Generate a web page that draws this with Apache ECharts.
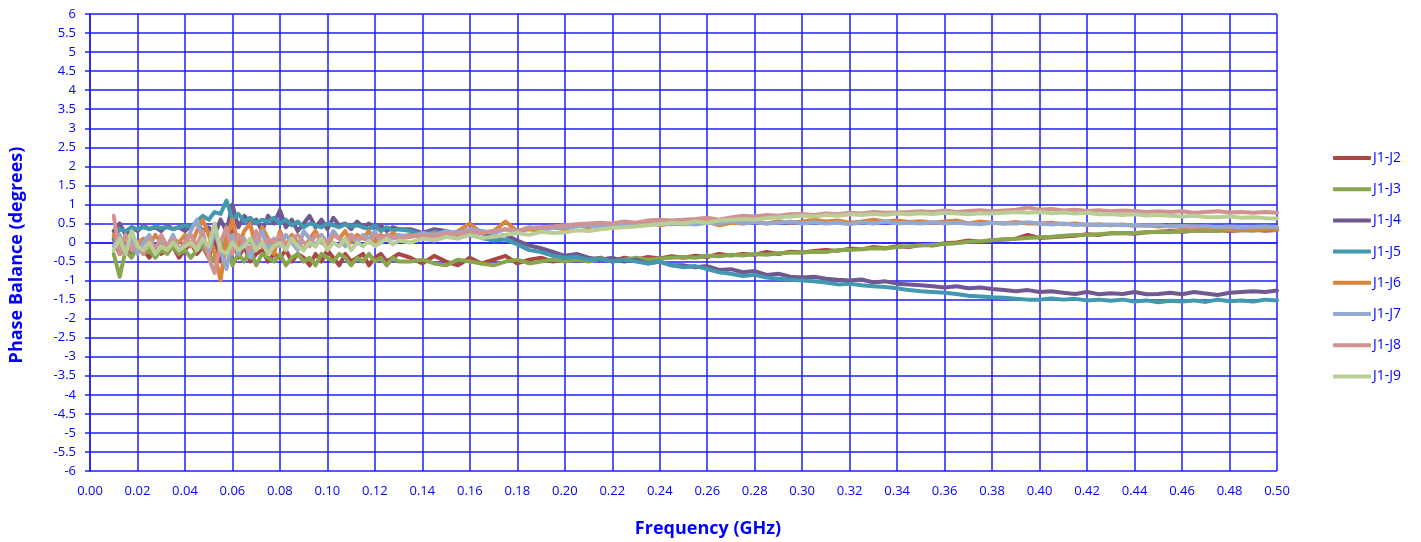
<!DOCTYPE html>
<html>
<head>
<meta charset="utf-8">
<script src="https://cdn.jsdelivr.net/npm/echarts@6/dist/echarts.min.js"></script>
<style>html,body{margin:0;padding:0;background:#fff}#c{width:1421px;height:542px}</style>
</head>
<body>
<div id="c"></div>
<script>
// Frequency sampling grid (GHz): fine steps 0.01-0.13, then 0.005 steps to 0.5
const freqEarly = [];
for (let i = 0; i <= 48; i++) freqEarly.push(+(0.01 + 0.0025 * i).toFixed(4));
const freqLate = [];
for (let j = 0; j <= 73; j++) freqLate.push(+(0.135 + 0.005 * j).toFixed(4));
const freq = freqEarly.concat(freqLate);

const seriesNames = ['J1-J2','J1-J3','J1-J4','J1-J5','J1-J6','J1-J7','J1-J8','J1-J9'];
const yTicks = { min: -6, max: 6, step: 0.5 };
const xTicks = { min: 0, max: 0.5, step: 0.02 };

const J2 = [0.1,-0.3,-0.1,-0.3,0.0,-0.2,-0.4,
 -0.1,-0.3,-0.2,-0.1,-0.4,-0.2,0.0,
 -0.3,-0.1,-0.4,0.1,-0.5,-0.2,0.3,
 -0.4,-0.1,-0.5,-0.3,-0.2,-0.5,-0.3,
 -0.4,-0.2,-0.5,-0.3,-0.4,-0.6,-0.3,
 -0.5,-0.2,-0.4,-0.6,-0.3,-0.5,-0.4,
 -0.3,-0.6,-0.4,-0.3,-0.5,-0.4,-0.3,
 -0.4,-0.55,-0.35,-0.5,-0.6,-0.4,-0.55,-0.45,-0.35,-0.55,-0.45,-0.4,-0.5,
 -0.45,-0.35,-0.45,-0.4,-0.5,-0.4,-0.45,-0.38,-0.42,-0.36,
 -0.4,-0.35,-0.38,-0.3,-0.34,-0.3,-0.32,-0.25,-0.3,-0.24,
 -0.26,-0.22,-0.2,-0.22,-0.16,-0.18,-0.12,-0.15,-0.1,-0.12,
 -0.06,-0.08,-0.02,0.0,0.05,0.02,0.06,0.08,0.1,0.2,
 0.12,0.14,0.16,0.18,0.22,0.2,0.24,0.25,0.23,0.27,
 0.28,0.3,0.28,0.31,0.3,0.33,0.3,0.32,0.34,0.31,0.33];

const J3 = [-0.3,-0.9,-0.2,-0.4,-0.1,-0.3,-0.2,
 -0.4,-0.2,-0.3,-0.1,-0.3,-0.2,-0.4,
 -0.2,-0.1,-0.3,-0.5,-0.2,0.2,-0.6,
 -0.3,-0.5,-0.2,-0.6,-0.3,-0.4,-0.5,
 -0.3,-0.6,-0.4,-0.3,-0.5,-0.4,-0.6,
 -0.3,-0.4,-0.5,-0.3,-0.4,-0.6,-0.4,
 -0.5,-0.3,-0.5,-0.4,-0.6,-0.4,-0.5,
 -0.5,-0.45,-0.55,-0.6,-0.45,-0.5,-0.55,-0.6,-0.5,-0.45,-0.55,-0.5,-0.45,
 -0.5,-0.45,-0.5,-0.42,-0.48,-0.45,-0.4,-0.45,-0.42,-0.4,
 -0.38,-0.4,-0.35,-0.36,-0.32,-0.34,-0.3,-0.32,-0.28,-0.27,
 -0.26,-0.24,-0.25,-0.2,-0.2,-0.17,-0.15,-0.16,-0.12,-0.1,
 -0.08,-0.06,-0.04,-0.02,0.02,0.03,0.06,0.08,0.1,0.12,
 0.14,0.15,0.18,0.2,0.2,0.22,0.24,0.25,0.25,0.27,
 0.28,0.27,0.3,0.3,0.31,0.3,0.33,0.32,0.31,0.34,0.33];

const J4 = [0.3,0.5,0.2,0.4,0.3,0.45,0.35,
 0.4,0.3,0.45,0.35,0.4,0.3,0.45,
 0.5,0.3,0.4,0.2,0.6,0.3,1.0,
 0.4,0.7,0.5,0.6,0.3,0.7,0.5,
 0.85,0.4,0.6,0.3,0.5,0.7,0.4,
 0.6,0.35,0.65,0.45,0.5,0.35,0.55,
 0.4,0.5,0.35,0.45,0.3,0.4,0.35,
 0.35,0.25,0.35,0.3,0.2,0.3,0.25,0.15,0.2,0.05,-0.08,-0.15,-0.25,
 -0.35,-0.3,-0.4,-0.45,-0.4,-0.5,-0.45,-0.55,-0.5,-0.6,
 -0.6,-0.65,-0.62,-0.72,-0.7,-0.78,-0.75,-0.85,-0.82,-0.9,
 -0.92,-0.9,-0.95,-0.98,-1.0,-0.97,-1.05,-1.02,-1.08,-1.1,
 -1.12,-1.15,-1.18,-1.15,-1.2,-1.18,-1.22,-1.25,-1.28,-1.25,
 -1.3,-1.28,-1.32,-1.35,-1.3,-1.36,-1.33,-1.35,-1.3,-1.36,
 -1.35,-1.32,-1.36,-1.3,-1.34,-1.38,-1.32,-1.3,-1.28,-1.3,-1.26];

const J5 = [0.1,0.35,0.3,0.4,0.35,0.4,0.35,
 0.42,0.38,0.4,0.35,0.4,0.45,0.4,
 0.55,0.7,0.6,0.8,0.75,1.1,0.6,
 0.75,0.55,0.65,0.5,0.6,0.55,0.65,
 0.5,0.6,0.45,0.55,0.4,0.5,0.45,
 0.4,0.5,0.45,0.4,0.48,0.42,0.45,
 0.4,0.35,0.45,0.3,0.4,0.32,0.35,
 0.3,0.2,0.28,0.22,0.15,0.2,0.12,0.05,0.08,-0.05,-0.2,-0.25,-0.35,
 -0.4,-0.38,-0.45,-0.42,-0.5,-0.45,-0.5,-0.55,-0.5,-0.6,
 -0.65,-0.62,-0.7,-0.78,-0.82,-0.88,-0.85,-0.92,-0.95,-0.98,
 -1.0,-1.02,-1.05,-1.1,-1.08,-1.12,-1.15,-1.17,-1.2,-1.25,
 -1.28,-1.3,-1.32,-1.35,-1.4,-1.42,-1.44,-1.45,-1.48,-1.5,
 -1.5,-1.47,-1.5,-1.48,-1.52,-1.5,-1.53,-1.5,-1.55,-1.52,
 -1.57,-1.53,-1.55,-1.52,-1.56,-1.5,-1.54,-1.52,-1.55,-1.5,-1.52];

const J6 = [0.2,-0.1,0.1,-0.2,0.0,0.1,-0.1,
 0.2,0.0,-0.2,0.1,0.0,0.2,-0.1,
 0.3,0.6,0.2,-0.3,-1.0,0.1,0.6,
 -0.1,0.3,0.5,-0.2,0.4,0.1,-0.3,
 0.3,-0.1,0.2,0.0,-0.2,0.1,0.3,
 0.0,-0.1,0.2,0.1,0.3,0.0,0.2,
 0.1,0.3,0.0,0.2,0.1,0.25,0.15,
 0.2,0.15,0.25,0.2,0.3,0.5,0.25,0.3,0.55,0.3,0.35,0.3,0.4,
 0.35,0.45,0.4,0.48,0.45,0.5,0.45,0.55,0.45,0.5,
 0.48,0.5,0.55,0.45,0.52,0.5,0.55,0.5,0.56,0.52,
 0.55,0.6,0.55,0.58,0.52,0.55,0.6,0.55,0.58,0.54,
 0.56,0.52,0.55,0.58,0.5,0.55,0.52,0.5,0.54,0.5,
 0.5,0.52,0.48,0.5,0.46,0.48,0.45,0.47,0.44,0.45,
 0.42,0.44,0.4,0.42,0.38,0.4,0.36,0.38,0.35,0.37,0.35];

const J7 = [-0.1,0.2,-0.2,0.1,-0.3,0.0,0.2,
 -0.2,0.1,-0.1,0.2,-0.2,0.0,0.3,
 0.6,0.1,-0.3,0.3,-0.2,-0.7,0.2,
 -0.3,0.1,-0.4,0.0,0.3,-0.2,0.1,
 -0.1,0.2,0.0,-0.2,0.3,0.1,-0.1,
 0.2,0.0,0.3,0.1,-0.1,0.2,0.0,
 0.2,0.1,0.3,0.0,0.2,0.1,0.2,
 0.15,0.25,0.2,0.3,0.25,0.35,0.3,0.25,0.35,0.3,0.4,0.35,0.38,
 0.4,0.42,0.45,0.4,0.48,0.45,0.5,0.46,0.5,0.48,
 0.5,0.47,0.52,0.5,0.55,0.5,0.53,0.5,0.52,0.55,
 0.5,0.53,0.5,0.52,0.48,0.53,0.5,0.55,0.5,0.52,
 0.5,0.53,0.5,0.52,0.5,0.48,0.52,0.5,0.5,0.53,
 0.5,0.47,0.5,0.46,0.48,0.45,0.47,0.45,0.46,0.44,
 0.45,0.42,0.44,0.42,0.43,0.4,0.42,0.4,0.41,0.42,0.4];

const J8 = [0.7,-0.3,0.2,-0.2,0.0,-0.3,0.1,
 -0.2,0.2,-0.1,0.1,-0.2,0.0,0.2,
 -0.1,0.3,-0.4,-0.8,0.0,0.4,-0.3,
 0.2,0.0,-0.2,0.3,-0.1,0.1,0.0,
 0.2,-0.1,0.1,0.2,0.0,-0.1,0.2,
 0.1,0.0,0.2,0.1,0.0,0.2,0.1,
 0.15,0.0,0.2,0.1,0.2,0.15,0.1,
 0.15,0.2,0.15,0.25,0.2,0.3,0.25,0.3,0.35,0.3,0.38,0.4,0.42,
 0.45,0.48,0.5,0.52,0.5,0.55,0.52,0.58,0.6,0.58,
 0.6,0.62,0.65,0.6,0.66,0.7,0.68,0.72,0.7,0.74,
 0.75,0.72,0.76,0.74,0.78,0.76,0.8,0.78,0.79,0.8,
 0.82,0.8,0.84,0.8,0.83,0.85,0.82,0.84,0.86,0.92,
 0.86,0.88,0.84,0.86,0.83,0.85,0.82,0.84,0.83,0.8,
 0.82,0.8,0.82,0.78,0.8,0.82,0.79,0.8,0.78,0.8,0.78];

const J9 = [-0.2,0.1,-0.3,0.3,-0.1,-0.2,0.0,
 -0.3,-0.1,-0.2,0.0,-0.2,-0.1,0.0,
 -0.2,0.1,-0.1,0.5,-0.2,-0.3,0.0,
 -0.2,-0.1,0.1,-0.2,0.0,-0.3,-0.1,
 0.0,-0.2,0.1,-0.1,-0.2,0.0,-0.1,
 0.1,-0.2,0.0,-0.1,0.1,-0.2,0.0,
 -0.1,0.05,-0.1,0.0,0.1,-0.05,0.05,
 0.0,0.1,0.05,0.15,0.1,0.2,0.12,0.15,0.2,0.25,0.2,0.28,0.25,
 0.26,0.32,0.3,0.35,0.38,0.4,0.42,0.45,0.48,0.52,
 0.5,0.55,0.52,0.58,0.6,0.62,0.6,0.64,0.66,0.68,
 0.7,0.68,0.72,0.7,0.74,0.72,0.75,0.73,0.76,0.74,
 0.77,0.75,0.78,0.76,0.74,0.77,0.76,0.78,0.8,0.78,
 0.8,0.77,0.79,0.76,0.78,0.74,0.75,0.72,0.74,0.71,
 0.72,0.7,0.68,0.7,0.67,0.66,0.68,0.65,0.66,0.64,0.63];

const values = [J2, J3, J4, J5, J6, J7, J8, J9];
const colors = ['#AA4643','#89A54E','#71588F','#4198AF','#DB843D','#93A9CF','#D19392','#B9CD96'];

const BLUE = '#0000FF';
const GRID = '#1E1EFF';
const FONT = 'Open Sans';

const chart = echarts.init(document.getElementById('c'), null, { renderer: 'canvas' });
chart.setOption({
  animation: false,
  backgroundColor: '#fff',
  grid: { left: 90, right: 144, top: 14, bottom: 71, containLabel: false },
  legend: {
    orient: 'vertical',
    left: 1328, top: 146,
    icon: 'roundRect',
    itemWidth: 38, itemHeight: 4, itemGap: 17.2,
    textStyle: { color: BLUE, fontFamily: FONT, fontSize: 14, padding: [0, 0, 0, -3] },
    data: seriesNames
  },
  xAxis: {
    type: 'value', min: xTicks.min, max: xTicks.max, interval: xTicks.step,
    axisLine: { show: true, lineStyle: { color: GRID, width: 1.5 } },
    axisTick: { show: false },
    splitLine: { show: true, lineStyle: { color: GRID, width: 1.5 } },
    axisLabel: { color: BLUE, fontFamily: FONT, fontSize: 13, margin: 14,
      formatter: v => v.toFixed(2) }
  },
  yAxis: {
    type: 'value', min: yTicks.min, max: yTicks.max, interval: yTicks.step,
    axisLine: { show: true, lineStyle: { color: GRID, width: 1.5 } },
    axisTick: { show: true, inside: false, length: 5, lineStyle: { color: GRID, width: 1.5 } },
    splitLine: { show: true, lineStyle: { color: GRID, width: 1.5 } },
    axisLabel: { color: BLUE, fontFamily: FONT, fontSize: 13, margin: 14,
      formatter: v => String(v) }
  },
  graphic: [
    { type: 'text', x: 708, y: 529,
      style: { text: 'Frequency (GHz)', fill: BLUE, font: 'bold 18px "Open Sans"',
        textAlign: 'center', textVerticalAlign: 'middle', align: 'center', verticalAlign: 'middle' } },
    { type: 'text', x: 17, y: 255, rotation: Math.PI / 2,
      style: { text: 'Phase Balance (degrees)', fill: BLUE, font: 'bold 18px "Open Sans"',
        textAlign: 'center', textVerticalAlign: 'middle', align: 'center', verticalAlign: 'middle' } }
  ],
  series: seriesNames.map((name, k) => ({
    name, type: 'line', symbol: 'none', smooth: false,
    data: freq.map((f, i) => [f, values[k][i]]),
    lineStyle: { color: colors[k], width: 4, join: 'round', cap: 'round' },
    itemStyle: { color: colors[k] }
  }))
});
</script>
</body>
</html>
